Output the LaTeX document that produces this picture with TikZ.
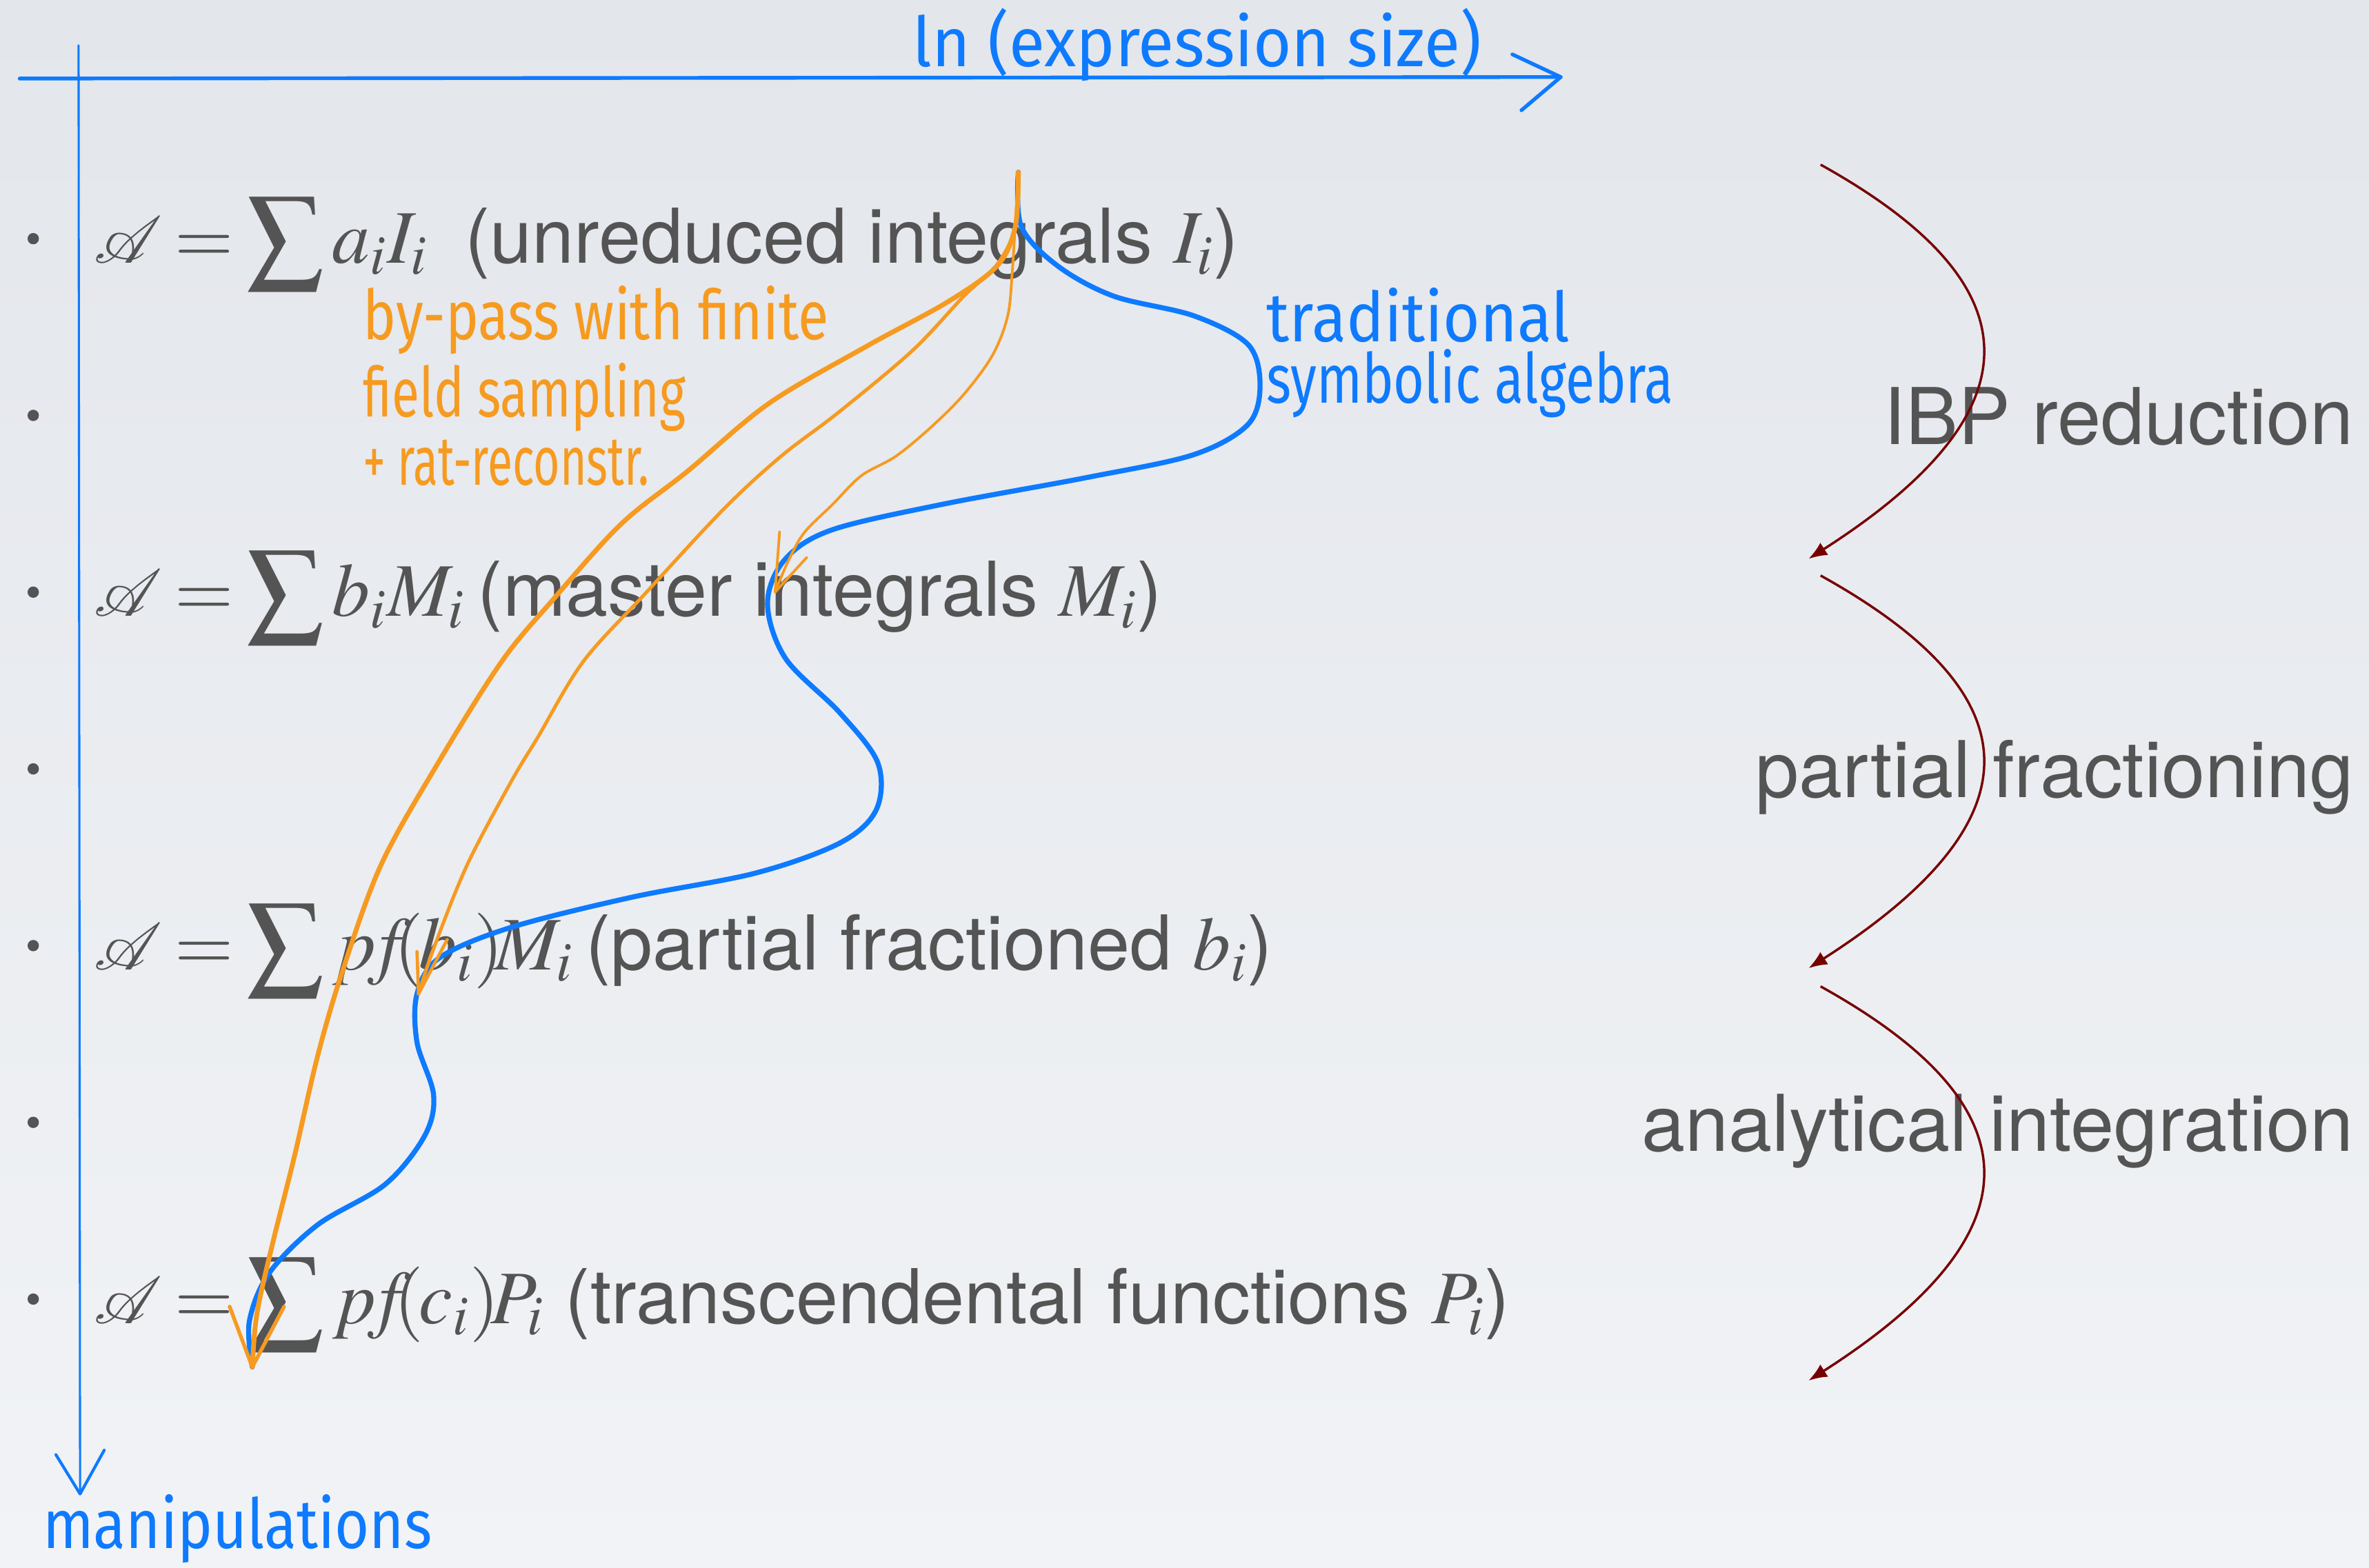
\documentclass[tikz,border=0pt]{standalone}
\usepackage{mathptmx}
\usepackage{mathrsfs}
\usepackage[no-math]{fontspec}
\setmainfont{TeX Gyre Heros}
\newfontfamily\handfont{Fira Sans}
\usetikzlibrary{arrows.meta, calc}
\definecolor{slideGray}{RGB}{84, 84, 84}
\definecolor{penBlue}{RGB}{14, 122, 254}
\definecolor{penOrange}{RGB}{246, 154, 32}
\definecolor{stepRed}{RGB}{118, 0, 0}
\definecolor{bgTop}{RGB}{227, 230, 235}
\definecolor{bgBottom}{RGB}{241, 243, 246}

\begin{document}
\begin{tikzpicture}[x=0.02cm, y=-0.02cm,
    formula/.style={anchor=base west, inner sep=0pt, text=slideGray, font={\fontsize{28.5}{34}\selectfont\thickmuskip=3mu plus 2mu\relax}},
    steplabel/.style={anchor=base east, inner sep=0pt, text=slideGray, font=\fontsize{29.5}{35}\selectfont},
    bullet/.style={circle, fill=slideGray, inner sep=0pt, minimum size=0.15cm},
    handnote/.style={anchor=base west, inner sep=0pt, font=\handfont\fontsize{26}{30}\selectfont},
    axis/.style={draw=penBlue, line width=1.4pt, line cap=round, line join=round},
    bluepen/.style={draw=penBlue, line width=1.9pt, line cap=round, line join=round},
    orangepen/.style={draw=penOrange, line cap=round, line join=round},
    flow/.style={draw=stepRed, line width=0.9pt, -{Latex[length=7pt, width=5.5pt]}}
]
    % Slide background
    \fill[top color=bgTop, bottom color=bgBottom] (0,0) rectangle (1568,1037.6);
    \useasboundingbox (0,0) rectangle (1568,1037.6);

    % Bullets
    \foreach \row/\yy in {1/158, 2/275, 3/392, 4/509, 5/626, 6/743, 7/860}
        \node[bullet] (dot\row) at (22,\yy) {};

    % Amplitude at each stage
    \node[formula] (unreduced) at (62,174) {$\mathscr{A} = \displaystyle\sum a_iI_i\mkern-1mu$\ \ (unreduced integrals $I_i$)};
    \node[formula] (master) at (62,408) {$\mathscr{A} = \displaystyle\sum b_iM_i\mkern-2mu$ (master integrals $M_i$)};
    \node[formula] (fractioned) at (62,642) {$\mathscr{A} = \displaystyle\sum p\mkern-2mu f\mkern-4mu(\mkern-1mu b_i)\mkern-2mu M_i\mkern-2mu$ (partial fractioned $b_i$)};
    \node[formula] (transcend) at (62,876) {$\mathscr{A} = \displaystyle\sum p\mkern-2mu f\mkern-4mu(\mkern-1mu c_i)\mkern-2mu P_i$ (transcendental functions $P_i$)};

    % Steps on the right
    \node[steplabel] (ibp) at (1558,294) {IBP reduction};
    \node[steplabel] (pfrac) at (1558,528) {partial fractioning};
    \node[steplabel] (anint) at (1558,762) {analytical integration};

    \coordinate (ibpS) at (1205,109);  \coordinate (ibpE) at (1197,370);
    \coordinate (pfS) at (1205,381);   \coordinate (pfE) at (1197,641);
    \coordinate (intS) at (1205,653);  \coordinate (intE) at (1197,914);
    \draw[flow] (ibpS) .. controls +(135,75) and +(161,-103) .. (ibpE);
    \draw[flow] (pfS) .. controls +(135,75) and +(161,-103) .. (pfE);
    \draw[flow] (intS) .. controls +(135,75) and +(161,-103) .. (intE);

    % Hand-drawn axes
    \coordinate (axisLeft) at (13,52);
    \coordinate (axisRight) at (1033,51);
    \coordinate (axisTop) at (52,30);
    \coordinate (axisDown) at (53,989);
    \draw[axis] (axisLeft) -- (axisRight);
    \draw[axis] ($(axisRight)+(-32,-15)$) -- (axisRight) -- ($(axisRight)+(-26,22)$);
    \draw[axis, line width=0.8pt] (axisTop) -- (axisDown);
    \draw[axis, line width=1.1pt] ($(axisDown)+(-16,-26)$) -- (axisDown) -- ($(axisDown)+(16,-29)$);
    \node[handnote, text=penBlue, xscale=0.95] (lnsize) at (604,44) {ln (expression size)};
    \node[handnote, text=penBlue, xscale=0.86] (manip) at (28,1025) {manipulations};

    % Traditional route (blue)
    \coordinate (startI) at (674,114);
    \coordinate (endP) at (167,905);
    \draw[bluepen] plot[smooth, tension=0.55] coordinates {(startI) (676,150) (700,176) (737,196) (790,209) (826,228) (834,255) (826,281) (790,301) (720,316) (623,334) (550,351) (519,371) (508,400) (520,436) (556,472) (581,505) (580,536) (556,558) (500,578) (418,594) (338,614) (291,634) (276,658) (276,690) (287,725) (281,752) (255,784) (210,811) (178,843) (165,875) (endP)};
    \node[handnote, text=penBlue, xscale=0.92] (tradA) at (838,226) {traditional};
    \node[handnote, text=penBlue, xscale=0.77] (tradB) at (838,267) {symbolic algebra};

    % Finite field by-pass (orange)
    \coordinate (endM) at (513,392);
    \coordinate (endB) at (277,658);
    \draw[orangepen, line width=1.8pt] plot[smooth, tension=0.55] coordinates {(startI) (672,150) (660,176) (627,200) (574,229) (509,267) (455,312) (411,347) (366,397) (332,438) (290,505) (252,573) (226,645) (210,700) (195,765) (180,825) (170,870) (endP)};
    \draw[orangepen, line width=1.3pt] plot[smooth, tension=0.55] coordinates {(startI) (672,150) (660,175) (638,196) (604,232) (555,273) (517,302) (479,337) (427,393) (386,438) (356,488) (338,518) (309,573) (287,628) (endB)};
    \draw[orangepen, line width=1.0pt] plot[smooth, tension=0.55] coordinates {(startI) (672,148) (670,180) (667,209) (657,235) (638,261) (616,283) (593,302) (570,315) (551,334) (532,353) (521,373) (endM)};
    \draw[orangepen, line width=1.4pt] ($(endP)+(-15,-40)$) -- (endP) -- ($(endP)+(21,-40)$);
    \draw[orangepen, line width=1.2pt] ($(endB)+(-1,-28)$) -- (endB) -- ($(endB)+(19,-36)$);
    \draw[orangepen, line width=1.0pt] ($(endM)+(3,-40)$) -- (endM) -- ($(endM)+(21,-23)$);
    \node[handnote, text=penOrange, xscale=0.81] (bypassA) at (240,225) {by-pass with finite};
    \node[handnote, text=penOrange, xscale=0.73] (bypassB) at (240,276) {field sampling};
    \node[handnote, text=penOrange, xscale=0.66] (bypassC) at (240,321) {+ rat-reconstr.};
\end{tikzpicture}
\end{document}
